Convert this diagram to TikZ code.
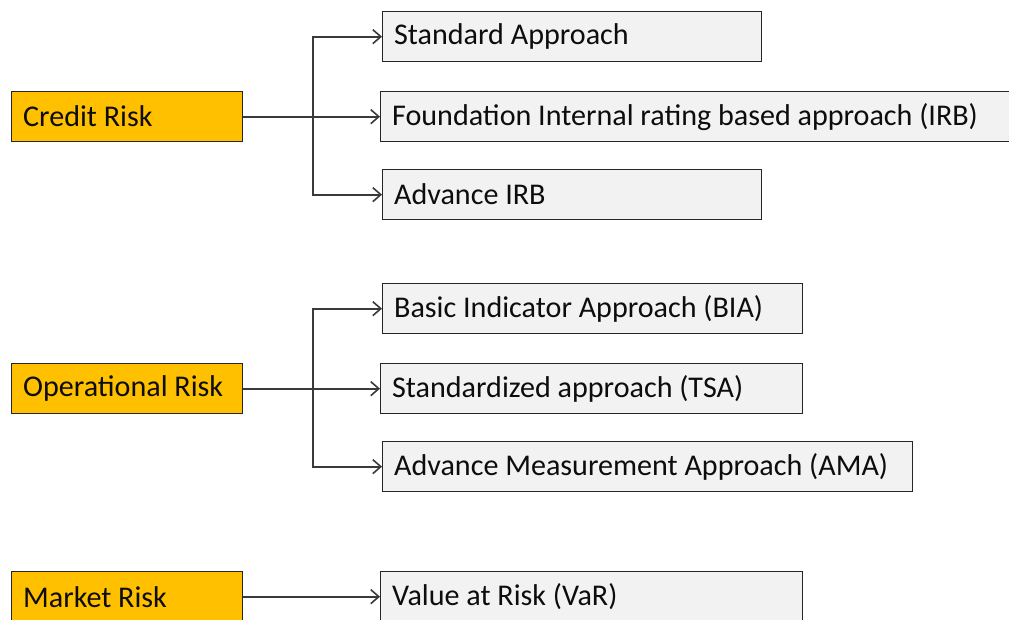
\documentclass[tikz,border=0pt]{standalone}
\usepackage{fontspec}
\setmainfont{Carlito}
\usetikzlibrary{arrows.meta}
\definecolor{riskorange}{HTML}{FFC000}
\definecolor{methodgray}{HTML}{F2F2F2}
\definecolor{linegray}{HTML}{3A3A3A}
\begin{document}
\begin{tikzpicture}[x=1pt,y=-1pt,
  base/.style={draw=black!85, line width=1.3pt, anchor=north west,
    minimum height=50pt, inner xsep=11.5pt, inner ysep=0pt, align=flush left,
    font=\fontsize{30.1}{32}\selectfont, text=black!95},
  risk/.style={base, fill=riskorange, text width=208pt},
  method/.style={base, fill=methodgray},
  link/.style={draw=linegray, line width=1.8pt,
    -{Straight Barb[length=8pt,width=14pt,line width=1.6pt]}},
]
\useasboundingbox (0,0) rectangle (1009,619);
\clip (0,0) rectangle (1009,619);

% risk categories
\node[risk] (cr) at (11,91)  {Credit Risk};
\node[risk] (op) at (11,363) {Operational Risk};
\node[risk] (mk) at (11,571) {Market Risk};

% credit risk methods
\node[method, text width=356pt] (std)  at (382,11)  {Standard Approach};
\node[method, text width=617pt] (firb) at (380,91)  {Foundation Internal rating based approach (IRB)};
\node[method, text width=356pt] (adv)  at (382,169) {Advance IRB};

% operational risk methods
\node[method, text width=397pt] (bia) at (382,283) {Basic Indicator Approach (BIA)};
\node[method, text width=399pt] (tsa) at (380,363) {Standardized approach (TSA)};
\node[method, text width=507pt] (ama) at (382,441) {Advance Measurement Approach (AMA)};

% market risk method
\node[method, text width=399pt] (var) at (380,571) {Value at Risk (VaR)};

% connectors
\draw[link] (cr.east) -- (firb.west);
\draw[link] (cr.east) ++(70,0) |- (std.west);
\draw[link] (cr.east) ++(70,0) |- (adv.west);

\draw[link] (op.east) -- (tsa.west);
\draw[link] (op.east) ++(70,0) |- (bia.west);
\draw[link] (op.east) ++(70,0) |- (ama.west);

\draw[link] (mk.east) -- (var.west);
\end{tikzpicture}
\end{document}
